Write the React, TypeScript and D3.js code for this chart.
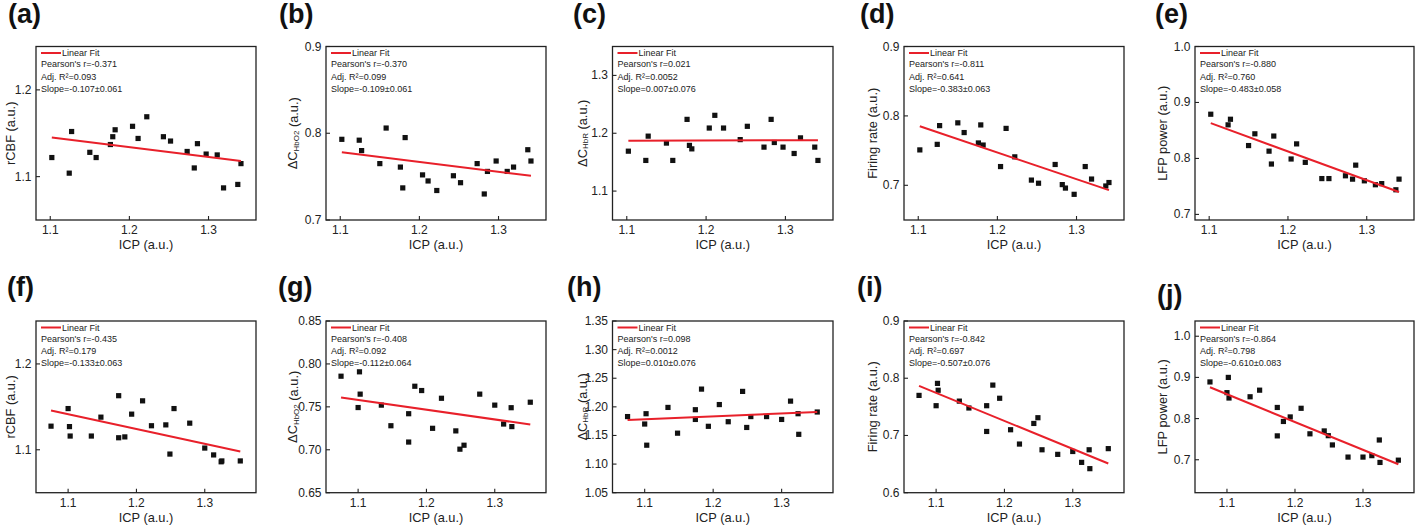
import * as React from 'react';
import * as d3 from 'd3';

const WIDTH = 1416;
const HEIGHT = 527;
const FONT = "'Liberation Sans', Arial, sans-serif";
const FIT_COLOR = '#e8202a';

// ICP values (x) shared by each row
const icpTop = [1.102, 1.124, 1.127, 1.150, 1.158, 1.176, 1.179, 1.182, 1.204, 1.211, 1.222,
    1.243, 1.252, 1.273, 1.282, 1.286, 1.297, 1.311, 1.319, 1.337, 1.341];
const icpBottom = [1.075, 1.100, 1.102, 1.103, 1.134, 1.148, 1.174, 1.174, 1.183, 1.193, 1.209,
    1.222, 1.243, 1.249, 1.255, 1.278, 1.300, 1.313, 1.324, 1.325, 1.352];

// top row series
const rcbfA = [1.122, 1.104, 1.152, 1.128, 1.122, 1.137, 1.146, 1.154, 1.158, 1.144, 1.169,
    1.146, 1.141, 1.129, 1.110, 1.138, 1.126, 1.125, 1.087, 1.091, 1.115];
const hbo2B = [0.793, 0.792, 0.780, 0.765, 0.806, 0.761, 0.737, 0.795, 0.752, 0.745, 0.734,
    0.751, 0.743, 0.765, 0.730, 0.756, 0.768, 0.756, 0.761, 0.781, 0.768];
const hbrC = [1.169, 1.153, 1.195, 1.183, 1.153, 1.224, 1.179, 1.173, 1.209, 1.231, 1.209,
    1.189, 1.212, 1.176, 1.224, 1.184, 1.176, 1.165, 1.192, 1.176, 1.153];
const firingD = [0.751, 0.759, 0.786, 0.790, 0.776, 0.761, 0.787, 0.758, 0.727, 0.782, 0.741,
    0.7075, 0.703, 0.730, 0.701, 0.696, 0.687, 0.727, 0.709, 0.699, 0.704];
const lfpE = [0.879, 0.860, 0.870, 0.823, 0.844, 0.813, 0.790, 0.840, 0.799, 0.826, 0.793,
    0.764, 0.764, 0.769, 0.763, 0.788, 0.760, 0.753, 0.755, 0.744, 0.763];

// bottom row series
const rcbfF = [1.1275, 1.148, 1.127, 1.116, 1.116, 1.138, 1.163, 1.114, 1.115, 1.1415, 1.157,
    1.128, 1.129, 1.095, 1.148, 1.131, 1.102, 1.094, 1.086, 1.087, 1.087];
const hbo2G = [0.7857, 0.7492, 0.7908, 0.7648, 0.752, 0.728, 0.742, 0.709, 0.774, 0.769, 0.725,
    0.760, 0.722, 0.7007, 0.7053, 0.7648, 0.752, 0.730, 0.749, 0.727, 0.7554];
const hbrH = [1.183, 1.170, 1.188, 1.133, 1.199, 1.154, 1.195, 1.178, 1.231, 1.166, 1.204,
    1.174, 1.227, 1.164, 1.183, 1.183, 1.178, 1.210, 1.188, 1.152, 1.191];
const firingI = [0.770, 0.752, 0.791, 0.779, 0.760, 0.748, 0.707, 0.752, 0.788, 0.765, 0.710,
    0.685, 0.721, 0.731, 0.675, 0.667, 0.672, 0.653, 0.675, 0.642, 0.677];
const lfpJ = [0.889, 0.863, 0.900, 0.850, 0.853, 0.869, 0.827, 0.758, 0.793, 0.804, 0.825,
    0.763, 0.770, 0.7585, 0.736, 0.7065, 0.7065, 0.710, 0.748, 0.6935, 0.699];

// linear fit values at the first and last ICP of each panel
const fitA = [1.145, 1.118];
const fitB = [0.778, 0.751];
const fitC = [1.187, 1.188];
const fitD = [0.785, 0.693];
const fitE = [0.863, 0.740];
const fitF = [1.1457, 1.098];
const fitG = [0.761, 0.7294];
const fitH = [1.177, 1.191];
const fitI = [0.7866, 0.651];
const fitJ = [0.876, 0.689];

// legend statistics: Pearson's r, Adj. R², slope
const statsA = ['-0.371', '0.093', '-0.107±0.061'];
const statsB = ['-0.370', '0.099', '-0.109±0.061'];
const statsC = ['0.021', '0.0052', '0.007±0.076'];
const statsD = ['-0.811', '0.641', '-0.383±0.063'];
const statsE = ['-0.880', '0.760', '-0.483±0.058'];
const statsF = ['-0.435', '0.179', '-0.133±0.063'];
const statsG = ['-0.408', '0.092', '-0.112±0.064'];
const statsH = ['0.098', '0.0012', '0.010±0.076'];
const statsI = ['-0.842', '0.697', '-0.507±0.076'];
const statsJ = ['-0.864', '0.798', '-0.610±0.083'];

// tick values
const xTicks = [1.1, 1.2, 1.3];
const ticksRcbf = [1.1, 1.2];
const ticksHbo2Top = [0.7, 0.8, 0.9];
const ticksHbrTop = [1.1, 1.2, 1.3];
const ticksFiringTop = [0.7, 0.8, 0.9];
const ticksLfp = [0.7, 0.8, 0.9, 1.0];
const ticksHbo2Bottom = [0.65, 0.70, 0.75, 0.80, 0.85];
const ticksHbrBottom = [1.05, 1.10, 1.15, 1.20, 1.25, 1.30, 1.35];
const ticksFiringBottom = [0.6, 0.7, 0.8, 0.9];

// layout
const cols = [
    { left: 36, right: 256, yTitleGap: 26 },
    { left: 326, right: 546, yTitleGap: 33.5 },
    { left: 612.5, right: 833, yTitleGap: 30.5 },
    { left: 904, right: 1124, yTitleGap: 32 },
    { left: 1195, right: 1414, yTitleGap: 33 },
];
const rows = [
    { top: 46.5, bottom: 220, xDomain: [1.082, 1.36] },
    { top: 321, bottom: 492.7, xDomain: [1.053, 1.375] },
];

type YKind = 'rcbf' | 'hbo2' | 'hbr' | 'firing' | 'lfp';

interface PanelSpec {
    letter: string;
    col: number;
    row: number;
    titleX: number;
    titleY: number;
    x: number[];
    y: number[];
    fit: number[];
    yDomain: [number, number];
    yTicks: number[];
    yDigits: number;
    kind: YKind;
    stats: string[];
}

const panels: PanelSpec[] = [
    { letter: 'a', col: 0, row: 0, titleX: 8, titleY: 22.5, x: icpTop, y: rcbfA, fit: fitA, yDomain: [1.05, 1.25], yTicks: ticksRcbf, yDigits: 1, kind: 'rcbf', stats: statsA },
    { letter: 'b', col: 1, row: 0, titleX: 279, titleY: 22.5, x: icpTop, y: hbo2B, fit: fitB, yDomain: [0.7, 0.9], yTicks: ticksHbo2Top, yDigits: 1, kind: 'hbo2', stats: statsB },
    { letter: 'c', col: 2, row: 0, titleX: 573, titleY: 22.5, x: icpTop, y: hbrC, fit: fitC, yDomain: [1.05, 1.35], yTicks: ticksHbrTop, yDigits: 1, kind: 'hbr', stats: statsC },
    { letter: 'd', col: 3, row: 0, titleX: 860, titleY: 22.5, x: icpTop, y: firingD, fit: fitD, yDomain: [0.65, 0.9], yTicks: ticksFiringTop, yDigits: 1, kind: 'firing', stats: statsD },
    { letter: 'e', col: 4, row: 0, titleX: 1155, titleY: 22.5, x: icpTop, y: lfpE, fit: fitE, yDomain: [0.69, 1.0], yTicks: ticksLfp, yDigits: 1, kind: 'lfp', stats: statsE },
    { letter: 'f', col: 0, row: 1, titleX: 7, titleY: 295.5, x: icpBottom, y: rcbfF, fit: fitF, yDomain: [1.05, 1.25], yTicks: ticksRcbf, yDigits: 1, kind: 'rcbf', stats: statsF },
    { letter: 'g', col: 1, row: 1, titleX: 278, titleY: 295.5, x: icpBottom, y: hbo2G, fit: fitG, yDomain: [0.65, 0.85], yTicks: ticksHbo2Bottom, yDigits: 2, kind: 'hbo2', stats: statsG },
    { letter: 'h', col: 2, row: 1, titleX: 567, titleY: 295.5, x: icpBottom, y: hbrH, fit: fitH, yDomain: [1.05, 1.35], yTicks: ticksHbrBottom, yDigits: 2, kind: 'hbr', stats: statsH },
    { letter: 'i', col: 3, row: 1, titleX: 857, titleY: 295.5, x: icpBottom, y: firingI, fit: fitI, yDomain: [0.6, 0.9], yTicks: ticksFiringBottom, yDigits: 1, kind: 'firing', stats: statsI },
    { letter: 'j', col: 4, row: 1, titleX: 1157, titleY: 304, x: icpBottom, y: lfpJ, fit: fitJ, yDomain: [0.62, 1.037], yTicks: ticksLfp, yDigits: 1, kind: 'lfp', stats: statsJ },
];

function yLabel(kind: YKind) {
    switch (kind) {
        case 'rcbf':
            return <>rCBF (a.u.)</>;
        case 'firing':
            return <>Firing rate (a.u.)</>;
        case 'lfp':
            return <>LFP power (a.u.)</>;
        case 'hbo2':
            return <>ΔC<tspan fontSize={8} dy={3}>HbO2</tspan><tspan dy={-3}> (a.u.)</tspan></>;
        case 'hbr':
            return <>ΔC<tspan fontSize={8} dy={3}>HbR</tspan><tspan dy={-3}> (a.u.)</tspan></>;
    }
}

function Panel({ spec }: { spec: PanelSpec }) {
    const c = cols[spec.col];
    const r = rows[spec.row];

    const xScale = d3.scaleLinear().domain(r.xDomain).range([c.left, c.right]);
    const yScale = d3.scaleLinear().domain(spec.yDomain).range([r.bottom, r.top]);
    const fmtY = d3.format(`.${spec.yDigits}f`);
    const fmtX = d3.format('.1f');

    const xFirst = spec.x[0];
    const xLast = spec.x[spec.x.length - 1];
    const fitLine = d3.line<number>()
        .x((_, i) => xScale(i === 0 ? xFirst : xLast))
        .y(d => yScale(d))(spec.fit);

    const tickLen = 4;
    const lgX = c.left + 5;
    const lgY = r.top + 6.5;
    const step = 12;

    return <g fontFamily={FONT}>
        <text x={spec.titleX} y={spec.titleY} fontSize={27} fontWeight="bold" fill="#111">({spec.letter})</text>

        <rect x={c.left} y={r.top} width={c.right - c.left} height={r.bottom - r.top}
            fill="none" stroke="#222" strokeWidth={1.3} />

        {xTicks.map(t => <g key={'x' + t}>
            <line x1={xScale(t)} x2={xScale(t)} y1={r.bottom} y2={r.bottom - tickLen} stroke="#222" strokeWidth={1.1} />
            <text x={xScale(t)} y={r.bottom + 10} fontSize={12} textAnchor="middle" dominantBaseline="central" fill="#222">{fmtX(t)}</text>
        </g>)}

        {spec.yTicks.map(t => <g key={'y' + t}>
            <line x1={c.left} x2={c.left + tickLen} y1={yScale(t)} y2={yScale(t)} stroke="#222" strokeWidth={1.1} />
            <text x={c.left - 4.5} y={yScale(t)} fontSize={12} textAnchor="end" dominantBaseline="central" fill="#222">{fmtY(t)}</text>
        </g>)}

        <text x={(c.left + c.right) / 2} y={r.bottom + 24.5} fontSize={12.8} textAnchor="middle"
            dominantBaseline="central" fill="#222">ICP (a.u.)</text>
        <text transform={`translate(${c.left - c.yTitleGap},${(r.top + r.bottom) / 2}) rotate(-90)`}
            fontSize={12.8} textAnchor="middle" dominantBaseline="central" fill="#222">{yLabel(spec.kind)}</text>

        {spec.x.map((xv, i) => <rect key={'p' + i}
            x={xScale(xv) - 2.6} y={yScale(spec.y[i]) - 2.6} width={5.2} height={5.2} fill="#111" />)}

        <path d={fitLine || ''} fill="none" stroke={FIT_COLOR} strokeWidth={2} />

        <line x1={lgX} x2={lgX + 20} y1={lgY} y2={lgY} stroke={FIT_COLOR} strokeWidth={2} />
        <g fontSize={9} fill="#222">
            <text x={lgX + 21} y={lgY} dominantBaseline="central">Linear Fit</text>
            <text x={lgX} y={lgY + step - 1} dominantBaseline="central">Pearson's r={spec.stats[0]}</text>
            <text x={lgX} y={lgY + 2 * step - 0.5} dominantBaseline="central">Adj. R²={spec.stats[1]}</text>
            <text x={lgX} y={lgY + 3 * step - 0.5} dominantBaseline="central">Slope={spec.stats[2]}</text>
        </g>
    </g>;
}

export default function App() {
    return <svg width={WIDTH} height={HEIGHT} viewBox={`0 0 ${WIDTH} ${HEIGHT}`}
        style={{ position: 'absolute', left: 0, top: 0, background: '#fff' }}>
        <rect width={WIDTH} height={HEIGHT} fill="#fff" />
        {panels.map(p => <Panel key={p.letter} spec={p} />)}
    </svg>;
}
